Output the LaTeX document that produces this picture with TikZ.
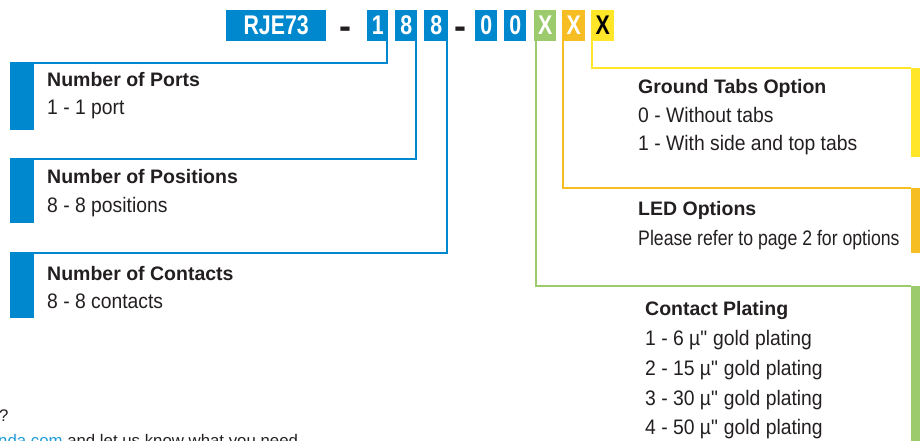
\documentclass[tikz,border=0pt]{standalone}
\usepackage{fontspec}
\usepackage{graphicx}
\setmainfont{Liberation Sans}
\newfontfamily\bodyfont{Liberation Sans}[FakeStretch=0.92]
\definecolor{cblue}{HTML}{0088CE}
\definecolor{cgreen}{HTML}{9CCB6E}
\definecolor{corange}{HTML}{F6BE23}
\definecolor{cyellow}{HTML}{FFE629}
\definecolor{ctext}{HTML}{231F20}
\definecolor{clink}{HTML}{1E9BD7}
\newcommand\sxc[1]{\scalebox{0.79}[1]{#1}}
\newcommand\dq{\XeTeXglyph\XeTeXcharglyph"22\relax}
\begin{document}
\begin{tikzpicture}[x=1pt,y=-1pt,
  codebox/.style={anchor=north west, inner sep=0pt, minimum height=31pt,
    font=\fontsize{27}{30}\selectfont\bfseries, text=white},
  dashsign/.style={anchor=base, inner sep=0pt, font=\fontsize{36}{40}\selectfont\bfseries, text=ctext},
  bar/.style={anchor=north west, inner sep=0pt, draw=none},
  conn/.style={line width=2pt},
  title/.style={anchor=base west, inner sep=0pt, text=ctext, font=\fontsize{19.5}{24}\selectfont\bfseries},
  body/.style={anchor=base west, inner sep=0pt, text=ctext, font=\bodyfont\fontsize{21}{24}\selectfont},
  small/.style={anchor=base west, inner sep=0pt, text=ctext, font=\fontsize{16.8}{20}\selectfont}]
\useasboundingbox (0,0) rectangle (920,441);
\clip (0,0) rectangle (920,441);

% code boxes
\node[codebox, fill=cblue, minimum width=100pt] (rje) at (226,10) {\sxc{RJE73}};
\node[dashsign] (d1) at (345,39) {-};
\node[codebox, fill=cblue, minimum width=21pt] (c1) at (367,10) {\sxc{1}};
\node[codebox, fill=cblue, minimum width=22pt] (c2) at (395,10) {\sxc{8}};
\node[codebox, fill=cblue, minimum width=24pt] (c3) at (424,10) {\sxc{8}};
\node[dashsign] (d2) at (460,39) {-};
\node[codebox, fill=cblue, minimum width=22pt] (c4) at (475,10) {\sxc{0}};
\node[codebox, fill=cblue, minimum width=22pt] (c5) at (504,10) {\sxc{0}};
\node[codebox, fill=cgreen, minimum width=22pt] (gx) at (534,10) {\sxc{X}};
\node[codebox, fill=corange, minimum width=23pt] (ox) at (562,10) {\sxc{X}};
\node[codebox, fill=cyellow, minimum width=23pt, text=black] (yx) at (591,10) {\sxc{X}};

% left bars
\node[bar, fill=cblue, minimum width=24pt, minimum height=67pt] (bar1) at (10,63) {};
\node[bar, fill=cblue, minimum width=24pt, minimum height=64pt] (bar2) at (10,159) {};
\node[bar, fill=cblue, minimum width=24pt, minimum height=65pt] (bar3) at (10,253) {};

% right bars
\node[bar, fill=cyellow, minimum width=14pt, minimum height=89pt] (ybar) at (911,68) {};
\node[bar, fill=corange, minimum width=14pt, minimum height=65pt] (obar) at (911,188) {};
\node[bar, fill=cgreen, minimum width=14pt, minimum height=160pt] (gbar) at (911,286) {};

% connectors
\draw[conn, cblue] ([xshift=-1pt]c1.south east) |- (bar1.north west);
\draw[conn, cblue] ([xshift=-1pt]c2.south east) |- (bar2.north west);
\draw[conn, cblue] ([xshift=-1pt]c3.south east) |- (bar3.north west);
\draw[conn, cyellow] ([xshift=1pt]yx.south west) |- (ybar.north west);
\draw[conn, corange] ([xshift=1pt]ox.south west) |- (obar.north west);
\draw[conn, cgreen] ([xshift=2pt]gx.south west) |- (gbar.north west);

% left texts
\node[title] (t1) at (47,87) {Number of Ports};
\node[body] (b1) at (47,115) {1 - 1 port};
\node[title] (t2) at (47,183) {Number of Positions};
\node[body] (b2) at (47,212) {8 - 8 positions};
\node[title] (t3) at (47,280) {Number of Contacts};
\node[body] (b3) at (47,308) {8 - 8 contacts};

% right texts
\node[title] (t4) at (638,94) {Ground Tabs Option};
\node[body] (b4a) at (638,122) {0 - Without tabs};
\node[body] (b4b) at (638,150) {1 - With side and top tabs};
\node[title] (t5) at (638,215) {LED Options};
\node[body] (b5) at (638,245) {\scalebox{0.915}[1]{Please refer to page 2 for options}};
\node[title] (t6) at (645,315) {Contact Plating};
\node[body] (b6a) at (645,345) {1 - 6 µ\dq{} gold plating};
\node[body] (b6b) at (645,375) {2 - 15 µ\dq{} gold plating};
\node[body] (b6c) at (645,405) {3 - 30 µ\dq{} gold plating};
\node[body] (b6d) at (645,434) {4 - 50 µ\dq{} gold plating};

% bottom cut texts
\node[small] (q) at (-1,421) {?};
\node[small] (mail) at (-2,446) {\textcolor{clink}{nda.com} and let us know what you need};
\end{tikzpicture}
\end{document}
